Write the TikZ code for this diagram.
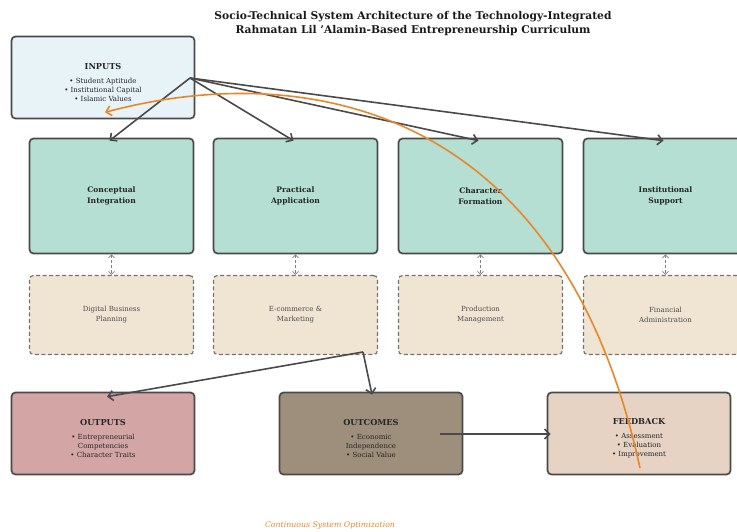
\documentclass[tikz,border=0pt]{standalone}
\usepackage{fontspec}
\setmainfont{DejaVu Serif}
\usetikzlibrary{arrows.meta,calc}

\definecolor{edgegray}{HTML}{4A4A4A}
\definecolor{inblue}{HTML}{E8F3F8}
\definecolor{coreteal}{HTML}{B5DFD2}
\definecolor{toolbeige}{HTML}{F0E5D3}
\definecolor{outrose}{HTML}{D4A5A5}
\definecolor{outtaupe}{HTML}{9E8E7C}
\definecolor{feedsand}{HTML}{E6D3C3}
\definecolor{looporange}{HTML}{E8872A}

\newcommand{\boxhead}[1]{\rule{0pt}{16pt}{\fontsize{8.2}{10}\selectfont\bfseries #1}\\[4.5pt]}

\tikzset{
  stage/.style={draw=edgegray, line width=1.7pt, rounded corners=4pt, fill=#1,
    minimum width=183pt, minimum height=82pt, align=center, text=black!85,
    font=\fontsize{7}{9.3}\selectfont},
  core/.style={draw=edgegray, line width=1.7pt, rounded corners=4pt, fill=coreteal,
    minimum width=164pt, minimum height=115pt, align=center, text=black!85,
    font=\fontsize{7.6}{10.8}\selectfont\bfseries},
  tool/.style={draw=black!55, line width=1.2pt, dash pattern=on 4pt off 2.5pt, rounded corners=4pt,
    fill=toolbeige, minimum width=164pt, minimum height=79pt, align=center, text=black!70,
    font=\fontsize{7}{9.8}\selectfont},
  flow/.style={draw=edgegray, line width=1.6pt, -{Straight Barb[length=5pt,width=10pt]}},
  dashlink/.style={draw=gray, line width=0.8pt, dash pattern=on 3pt off 2pt,
    {Straight Barb[length=3pt,width=6pt]}-{Straight Barb[length=3pt,width=6pt]}},
  feedloop/.style={draw=looporange, line width=1.6pt, -{Straight Barb[length=5pt,width=10pt]}}
}

\begin{document}
\begin{tikzpicture}[x=1pt,y=-1pt]
\useasboundingbox (0,0) rectangle (737,532);

\node[align=center, text=black!90, font=\fontsize{10.7}{14}\selectfont\bfseries] (title) at (413,24)
  {Socio-Technical System Architecture of the Technology-Integrated\\Rahmatan Lil 'Alamin-Based Entrepreneurship Curriculum};

% inputs
\node[stage=inblue] (inputs) at (103,77.5)
  {\boxhead{INPUTS}• Student Aptitude\\• Institutional Capital\\• Islamic Values};

% four pillars with their tools
\foreach \name/\cx/\main/\tool in {
  concept/111.5/{Conceptual\\Integration}/{Digital Business\\Planning},
  practice/295.5/{Practical\\Application}/{E-commerce \&\\Marketing},
  character/480.5/{Character\\Formation}/{Production\\Management},
  support/665.5/{Institutional\\Support}/{Financial\\Administration}} {
  \node[core] (\name) at (\cx,196) {\main};
  \node[tool] (\name-t) at (\cx,315) {\tool};
  \draw[dashlink] (\name) -- (\name-t);
}

% results row
\node[stage=outrose] (outputs) at (103,433.5)
  {\boxhead{OUTPUTS}• Entrepreneurial\\Competencies\\• Character Traits};
\node[stage=outtaupe] (outcomes) at (371,433.5)
  {\boxhead{OUTCOMES}• Economic\\Independence\\• Social Value};
\node[stage=feedsand] (feedback) at (639,433.5)
  {\boxhead{FEEDBACK}• Assessment\\• Evaluation\\• Improvement};

% connectors
\coordinate (hub) at (190,78);
\foreach \name in {concept,practice,character,support}
  \draw[flow] (hub) -- ($(\name.north)+(-2,3)$);

\coordinate (fork) at (363,352);
\draw[flow] (fork) -- ($(outputs.north)+(4,5)$);
\draw[flow] (fork) -- ($(outcomes.north)+(1,3)$);
\draw[flow] (440,434) -- ($(feedback.west)+(4,0.5)$);

% feedback loop
\draw[feedloop] (640,468) .. controls (560,100) and (300,60) .. ($(inputs.south)+(2,-7)$);

\node[text=looporange, font=\fontsize{7.8}{9}\selectfont\itshape] (note) at (330,525) {Continuous System Optimization};
\end{tikzpicture}
\end{document}
